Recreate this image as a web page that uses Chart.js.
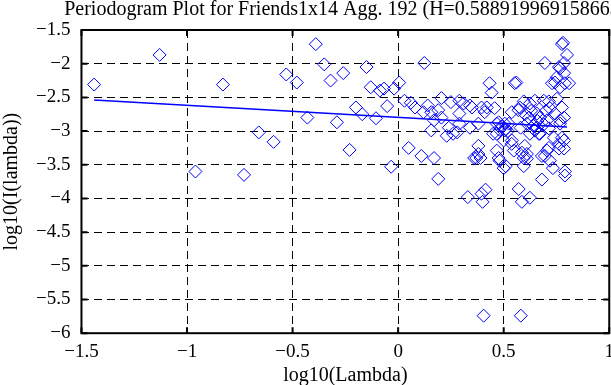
<!DOCTYPE html>
<html>
<head>
<meta charset="utf-8">
<script src="https://cdn.jsdelivr.net/npm/chart.js@4.4.1/dist/chart.umd.min.js"></script>
<style>
  html, body { margin: 0; padding: 0; background: #fff; overflow: hidden; }
  #wrap { width: 621px; height: 385px; }
</style>
</head>
<body>
<div id="wrap"><canvas id="myChart"></canvas></div>
<script>
// periodogram points
const logLambda = [
  -1.44, -1.13, -0.96, -0.83, -0.73, -0.66, -0.59, -0.53, -0.48, -0.43,
  -0.39, -0.35, -0.32, -0.29, -0.26, -0.23, -0.20, -0.17, -0.15, -0.13,
  -0.105, -0.086, -0.067, -0.052, -0.033, -0.019, 0.005, 0.03, 0.05, 0.06,
  0.08, 0.11, 0.12, 0.124, 0.14, 0.157, 0.157, 0.17, 0.17, 0.19,
  0.19, 0.205, 0.205, 0.23, 0.24, 0.25, 0.26, 0.28, 0.29, 0.29,
  0.29, 0.31, 0.33, 0.34, 0.34, 0.35, 0.36, 0.37, 0.38, 0.38,
  0.38, 0.39, 0.395, 0.395, 0.40, 0.405, 0.41, 0.414, 0.42, 0.433,
  0.443, 0.45, 0.457, 0.467, 0.467, 0.467, 0.476, 0.476, 0.48, 0.481,
  0.49, 0.50, 0.50, 0.505, 0.505, 0.51, 0.51, 0.52, 0.524, 0.538,
  0.538, 0.538, 0.548, 0.552, 0.56, 0.57, 0.576, 0.571, 0.58, 0.581,
  0.586, 0.586, 0.595, 0.595, 0.595, 0.60, 0.60, 0.61, 0.61, 0.61,
  0.62, 0.624, 0.624, 0.624, 0.63, 0.64, 0.648, 0.648, 0.657, 0.657,
  0.66, 0.667, 0.671, 0.671, 0.681, 0.681, 0.69, 0.69, 0.695, 0.695,
  0.70, 0.705, 0.705, 0.714, 0.714, 0.714, 0.719, 0.719, 0.729, 0.733,
  0.738, 0.743, 0.743, 0.752, 0.752, 0.762, 0.762, 0.762, 0.767, 0.767,
  0.767, 0.767, 0.776, 0.776, 0.776, 0.781, 0.786, 0.786, 0.786, 0.786,
  0.786, 0.79, 0.79, 0.79, 0.80, 0.81
];
const logI = [
  -2.31, -1.87, -3.60, -2.31, -3.65, -3.02, -3.16, -2.16, -2.28, -2.80,
  -1.71, -2.01, -2.25, -2.87, -2.14, -3.28, -2.65, -2.75, -2.05, -2.35,
  -2.81, -2.40, -2.37, -2.63, -3.53, -2.37, -2.28, -2.55, -3.25, -2.58,
  -2.65, -3.37, -2.72, -1.99, -2.62, -2.72, -2.99, -2.84, -3.40, -2.69,
  -3.71, -2.51, -2.80, -3.07, -2.95, -2.57, -3.04, -3.02, -2.74, -2.55,
  -2.89, -2.59, -3.98, -2.62, -2.95, -2.65, -3.40, -3.40, -2.89, -3.22,
  -3.34, -3.40, -2.65, -3.93, -4.05, -5.74, -2.72, -3.87, -2.65, -2.29,
  -2.43, -3.04, -2.66, -2.89, -3.04, -3.29, -2.87, -3.40, -2.98, -3.44,
  -2.93, -3.14, -3.55, -2.89, -2.99, -2.97, -3.52, -3.00, -2.89, -2.72,
  -3.14, -3.19, -3.29, -2.29, -2.28, -2.69, -2.65, -3.86, -2.95, -5.74,
  -3.32, -4.05, -2.56, -3.40, -3.52, -2.75, -3.22, -2.89, -3.34, -3.41,
  -2.80, -2.59, -3.04, -3.99, -2.70, -2.92, -2.55, -2.99, -2.74, -2.95,
  -2.85, -3.04, -2.80, -3.04, -3.37, -3.72, -2.55, -2.90, -1.99, -3.37,
  -2.70, -2.84, -3.29, -2.56, -2.96, -3.25, -2.66, -3.44, -2.29, -3.55,
  -3.10, -2.28, -2.74, -2.20, -2.52, -2.05, -3.19, -3.26, -2.07, -2.35,
  -2.84, -2.89, -1.71, -2.65, -3.10, -1.69, -2.14, -1.99, -2.80, -3.14,
  -3.26, -2.29, -3.60, -3.66, -1.87, -2.29
];

// fitted line (ends)
const fitX = [-1.44, 0.80];
const fitY = [-2.54, -2.94];

const xTicks = [-1.5, -1, -0.5, 0, 0.5, 1];
const yTicks = [-6, -5.5, -5, -4.5, -4, -3.5, -3, -2.5, -2, -1.5];

const titleText = 'Periodogram Plot for Friends1x14 Agg. 192 (H=0.588919969158663)';
const serif = '"Liberation Serif", "Times New Roman", serif';

function fmt(v) {
  return String(v).replace('-', '\u2212');
}

// box, inward tick marks and the title centred over the plot
const framePlugin = {
  id: 'frame',
  afterDraw(chart) {
    const ctx = chart.ctx;
    const a = chart.chartArea;
    const xs = chart.scales.x, ys = chart.scales.y;
    ctx.save();
    ctx.strokeStyle = '#000';
    ctx.lineWidth = 2;
    ctx.setLineDash([]);
    ctx.strokeRect(a.left, a.top, a.right - a.left, a.bottom - a.top);
    ctx.beginPath();
    xTicks.forEach(v => {
      const px = xs.getPixelForValue(v);
      ctx.moveTo(px, a.bottom); ctx.lineTo(px, a.bottom - 6);
      ctx.moveTo(px, a.top); ctx.lineTo(px, a.top + 6);
    });
    yTicks.forEach(v => {
      const py = ys.getPixelForValue(v);
      ctx.moveTo(a.left, py); ctx.lineTo(a.left + 6, py);
      ctx.moveTo(a.right, py); ctx.lineTo(a.right - 6, py);
    });
    ctx.stroke();
    ctx.fillStyle = '#000';
    ctx.font = '20px ' + serif;
    ctx.textAlign = 'center';
    ctx.textBaseline = 'middle';
    ctx.fillText(titleText, (a.left + a.right) / 2, 10);
    ctx.restore();
  }
};

const points = logLambda.map((x, i) => ({ x: x, y: logI[i] }));
const fitLine = fitX.map((x, i) => ({ x: x, y: fitY[i] }));

const ctx = document.getElementById('myChart').getContext('2d');
new Chart(ctx, {
  type: 'scatter',
  data: {
    datasets: [
      {
        label: 'fit',
        data: fitLine,
        showLine: true,
        borderColor: '#0000ff',
        borderWidth: 1.5,
        pointRadius: 0,
        fill: false
      },
      {
        label: 'periodogram',
        data: points,
        pointStyle: 'rectRot',
        pointRadius: 6.5,
        pointBorderWidth: 1,
        pointBorderColor: '#0000ff',
        pointBackgroundColor: 'rgba(0,0,0,0)'
      }
    ]
  },
  plugins: [framePlugin],
  options: {
    responsive: true,
    maintainAspectRatio: false,
    animation: false,
    layout: { padding: { top: 30, left: 0, right: 0, bottom: 0 } },
    plugins: {
      legend: { display: false },
      tooltip: { enabled: false },
      title: { display: false }
    },
    scales: {
      x: {
        type: 'linear',
        min: -1.5,
        max: 1,
        afterBuildTicks: axis => { axis.ticks = xTicks.map(v => ({ value: v })); },
        ticks: {
          color: '#000',
          padding: 7,
          maxRotation: 0,
          font: { family: serif, size: 19 },
          callback: v => fmt(v)
        },
        grid: { color: '#000', lineWidth: 1, drawTicks: false, tickLength: 0 },
        border: { display: false, dash: [8, 5] },
        title: {
          display: true,
          text: 'log10(Lambda)',
          color: '#000',
          font: { family: serif, size: 20, lineHeight: 1.1 },
          padding: { top: -5, bottom: -2 }
        }
      },
      y: {
        type: 'linear',
        min: -6,
        max: -1.5,
        afterBuildTicks: axis => { axis.ticks = yTicks.map(v => ({ value: v })); },
        ticks: {
          color: '#000',
          padding: 11,
          font: { family: serif, size: 19 },
          callback: v => fmt(v)
        },
        grid: { color: '#000', lineWidth: 1, drawTicks: false, tickLength: 0 },
        border: { display: false, dash: [8, 5] },
        title: {
          display: true,
          text: 'log10(I(lambda))',
          color: '#000',
          font: { family: serif, size: 20 },
          padding: { top: 0, bottom: 1 }
        }
      }
    }
  }
});
</script>
</body>
</html>
